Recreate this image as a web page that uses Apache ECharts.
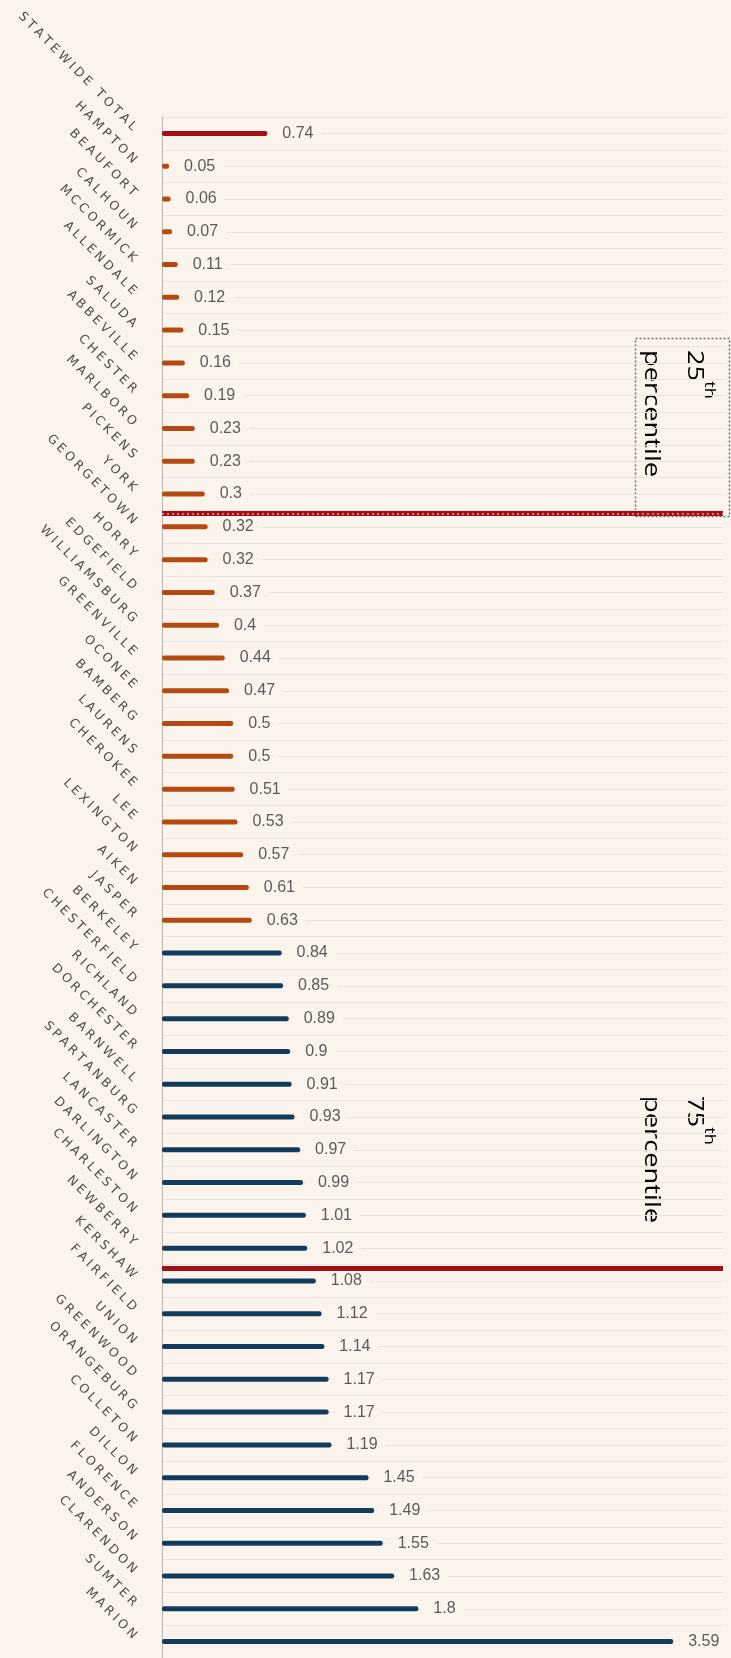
<!DOCTYPE html>
<html>
<head>
<meta charset="utf-8">
<title>County rates</title>
<script src="https://cdn.jsdelivr.net/npm/echarts@6/dist/echarts.min.js"></script>
<style>
  html, body { margin: 0; padding: 0; background: #fbf4ec; }
  #main { width: 731px; height: 1658px; }
</style>
</head>
<body>
<div id="main"></div>
<script>
  // rows, top to bottom (statewide total first, then counties sorted by rate)
  const counties = [
    'STATEWIDE TOTAL', 'HAMPTON', 'BEAUFORT', 'CALHOUN', 'MCCORMICK', 'ALLENDALE', 'SALUDA',
    'ABBEVILLE', 'CHESTER', 'MARLBORO', 'PICKENS', 'YORK', 'GEORGETOWN', 'HORRY', 'EDGEFIELD',
    'WILLIAMSBURG', 'GREENVILLE', 'OCONEE', 'BAMBERG', 'LAURENS', 'CHEROKEE', 'LEE', 'LEXINGTON',
    'AIKEN', 'JASPER', 'BERKELEY', 'CHESTERFIELD', 'RICHLAND', 'DORCHESTER', 'BARNWELL',
    'SPARTANBURG', 'LANCASTER', 'DARLINGTON', 'CHARLESTON', 'NEWBERRY', 'KERSHAW', 'FAIRFIELD',
    'UNION', 'GREENWOOD', 'ORANGEBURG', 'COLLETON', 'DILLON', 'FLORENCE', 'ANDERSON',
    'CLARENDON', 'SUMTER', 'MARION'
  ]
  const rates = [
    0.74, 0.05, 0.06, 0.07, 0.11, 0.12, 0.15,
    0.16, 0.19, 0.23, 0.23, 0.3, 0.32, 0.32, 0.37,
    0.4, 0.44, 0.47, 0.5, 0.5, 0.51, 0.53, 0.57,
    0.61, 0.63, 0.84, 0.85, 0.89, 0.9, 0.91,
    0.93, 0.97, 0.99, 1.01, 1.02, 1.08, 1.12,
    1.14, 1.17, 1.17, 1.19, 1.45, 1.49, 1.55,
    1.63, 1.8, 3.59
  ]
  // percentile lines sit under these rows
  const percentileRows = [11, 34]
  const percentileLabels = ['25', '75']

  const bg = '#fbf4ec'
  const red = '#a30d14'
  const statewide = rates[0]

  function barColor (v, i) {
    if (i === 0) return red
    return v < statewide ? '#b44a12' : '#133c5c'
  }

  function percentileText (p) {
    return '{n|' + p + '}{s|th}\n{p|percentile}'
  }
  const percentileRich = {
    n: { fontFamily: 'Open Sans', fontSize: 21, color: '#222', lineHeight: 43 },
    s: { fontFamily: 'Open Sans', fontSize: 14, color: '#222', lineHeight: 38, verticalAlign: 'top' },
    p: { fontFamily: 'Open Sans', fontSize: 21, color: '#222', lineHeight: 43 }
  }

  const chart = echarts.init(document.getElementById('main'))
  chart.setOption({
    animation: false,
    backgroundColor: bg,
    grid: { left: 162, right: 8, top: 117, bottom: -5 },
    xAxis: { type: 'value', min: 0, max: 3.94, show: false },
    yAxis: [
      {
        type: 'category',
        inverse: true,
        data: counties,
        axisLine: { lineStyle: { color: '#b9b6b2', width: 1 } },
        axisTick: { show: false },
        splitLine: { show: false },
        axisLabel: {
          interval: 0,
          rotate: -45,
          margin: 32,
          align: 'right',
          verticalAlign: 'bottom',
          color: '#4d4d4d',
          fontFamily: 'DejaVu Sans',
          fontSize: 12.5,
          // tracked capitals
          formatter: name => name.split('').join('\u2005')
        }
      },
      {
        // only used for the thin guide lines (one per half row)
        type: 'value',
        inverse: true,
        min: 0,
        max: counties.length,
        interval: 0.5,
        position: 'right',
        axisLine: { show: false },
        axisTick: { show: false },
        axisLabel: { show: false },
        splitLine: { lineStyle: { color: '#e8e3de', width: 1 } }
      }
    ],
    series: [
      {
        type: 'bar',
        yAxisIndex: 0,
        barWidth: 5,
        itemStyle: { borderRadius: 2 },
        data: rates.map((v, i) => ({ value: v, itemStyle: { color: barColor(v, i) } })),
        label: {
          show: true,
          position: 'right',
          distance: 3,
          padding: [1, 8, 1, 12],
          backgroundColor: bg,
          color: '#5b5b5b',
          fontFamily: 'Liberation Sans',
          fontSize: 16
        }
      },
      {
        type: 'line',
        yAxisIndex: 1,
        data: [],
        silent: true,
        markLine: {
          symbol: 'none',
          silent: true,
          label: { show: false },
          lineStyle: { color: red, width: 5, type: 'solid' },
          data: percentileRows.map(r => ({ yAxis: r + 1.1 })).concat([
            { yAxis: percentileRows[0] + 1.1, lineStyle: { color: '#d9a0a0', width: 1.5, type: [2, 3] } }
          ])
        }
      }
    ],
    graphic: [
      {
        type: 'rect',
        left: 633,
        top: 336,
        shape: { width: 94, height: 178 },
        style: { fill: 'none', stroke: '#6e6e6e', lineWidth: 1.5, lineDash: [2, 2] }
      },
      {
        type: 'text',
        x: 715.5,
        y: 350,
        rotation: -Math.PI / 2,
        scaleX: 1.3,
        style: { text: percentileText(percentileLabels[0]), rich: percentileRich, align: 'left', verticalAlign: 'top' }
      },
      {
        type: 'text',
        x: 715.5,
        y: 1096,
        rotation: -Math.PI / 2,
        scaleX: 1.3,
        style: { text: percentileText(percentileLabels[1]), rich: percentileRich, align: 'left', verticalAlign: 'top' }
      }
    ]
  })
</script>
</body>
</html>
